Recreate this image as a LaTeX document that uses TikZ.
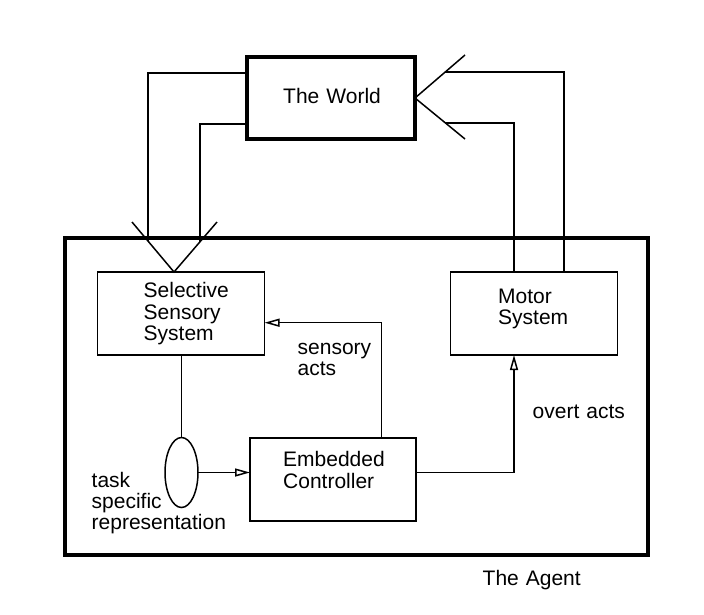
\documentclass[tikz,border=0pt]{standalone}
\usepackage{fontspec}
\setmainfont{Liberation Sans}
\usetikzlibrary{arrows.meta,shapes.geometric}
\begin{document}
\begin{tikzpicture}[x=1pt,y=-1pt,
  conn/.style={line width=1.5pt},
  box/.style={draw, line width=1.5pt, rectangle, inner sep=0pt, outer sep=0pt, anchor=north west},
  thickbox/.style={box, line width=3.3pt},
  lbl/.style={anchor=base west, inner sep=0pt, text width=160pt, align=left, font=\fontsize{21}{21.3}\selectfont},
  arr/.style={line width=1.5pt, -{Triangle[open,length=15pt,width=8pt]}},
  ]
\useasboundingbox (0,0) rectangle (704,614);

% boxes
\node[thickbox, minimum width=168pt, minimum height=82pt] (world) at (247,57) {};
\node[thickbox, minimum width=583pt, minimum height=317pt] (agent) at (65,238) {};
\node[box, minimum width=167pt, minimum height=83pt] (sss) at (97.5,272) {};
\node[box, minimum width=167pt, minimum height=83pt] (motor) at (450.5,272) {};
\node[box, minimum width=166pt, minimum height=83pt] (ctrl) at (250,438) {};
\node[draw, ellipse, line width=1.5pt, inner sep=0pt, outer sep=0pt, minimum width=33pt, minimum height=70pt] (rep) at (181.5,472.5) {};

% texts
\node[lbl] (tworld) at (283,103.3) {The World};
\node[lbl] (tsss) at (143.5,297.7) {Selective\\Sensory\\System};
\node[lbl] (tmotor) at (498,303.3) {Motor\\System};
\node[lbl] (tctrl) at (283,466.7) {Embedded\\Controller};
\node[lbl] (tsa) at (297.5,354) {sensory\\acts};
\node[lbl] (toa) at (532.5,418.3) {overt acts};
\node[lbl] (trep) at (91.5,487.3) {task\\specific\\representation};
\node[lbl] (tagent) at (482.5,585) {The Agent};

% internal connectors
\draw[conn] (rep.north |- sss.south) -- (rep.north);
\draw[arr] (rep.east) -- (rep.east -| ctrl.west);
\coordinate (sa) at (381.5,322.7);
\draw[arr] (sa |- ctrl.north) -- (sa) -- (sa -| sss.east);
\coordinate (oa) at (514,472.5);
\draw[arr] (ctrl.east |- oa) -- (oa) -- (oa |- motor.south);

% world -> selective sensory system
\coordinate (sv) at (174,272);
\coordinate (sl) at (132,222);
\coordinate (sr) at (217,222);
\coordinate (w1) at (148,73);
\coordinate (w2) at (200,124);
\coordinate (w1e) at (148,241);
\coordinate (w2e) at (200,241.8);
\draw[conn] (sl) -- (sv) -- (sr);
\draw[conn] (w1 -| world.west) -- (w1) -- (w1e);
\draw[conn] (w2 -| world.west) -- (w2) -- (w2e);

% motor system -> world
\coordinate (wu) at (465,55);
\coordinate (wd) at (465,139);
\draw[conn] (wu) -- (world.east) -- (wd);
\coordinate (m1) at (514,123);
\coordinate (m2) at (564,72);
\coordinate (m1e) at (445.5,123);
\coordinate (m2e) at (445.2,72);
\draw[conn] (m1 |- motor.north) -- (m1) -- (m1e);
\draw[conn] (m2 |- motor.north) -- (m2) -- (m2e);
\end{tikzpicture}
\end{document}
